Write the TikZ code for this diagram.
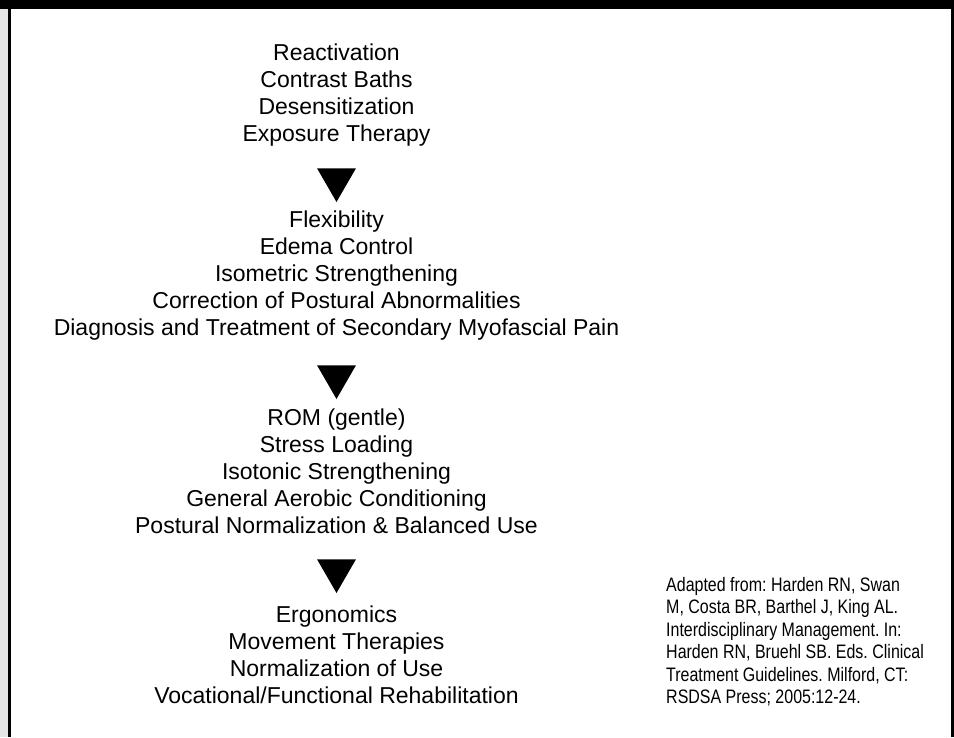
\documentclass[tikz,border=0pt]{standalone}
\usepackage{fontspec}
\setmainfont{Liberation Sans}
\newfontfamily\citefont[FakeStretch=0.82]{Liberation Sans}
\usetikzlibrary{shapes.geometric, positioning}
\frenchspacing

\tikzset{
  stage/.style={align=center, inner sep=0pt, anchor=base, font=\fontsize{23}{27}\selectfont},
  downtri/.style={regular polygon, regular polygon sides=3, shape border rotate=180,
    fill=black, inner sep=0pt, minimum size=45pt},
  source/.style={align=left, inner sep=0pt, anchor=base west,
    font=\citefont\fontsize{19.5}{22.5}\selectfont}
}

\begin{document}
\begin{tikzpicture}[x=1pt, y=-1pt]
  \useasboundingbox (0,0) rectangle (954,737);

  % Frame
  \fill[black!10] (0,0) rectangle (8,737);
  \fill[black] (8,0) rectangle (11,737);
  \fill[black] (951,0) rectangle (954,737);
  \fill[black] (0,0) rectangle (954,9);

  % Stages (anchored at the last line)
  \node[stage] (s1) at (336.5,141) {Reactivation\\Contrast Baths\\Desensitization\\Exposure Therapy};
  \node[stage] (s2) at (336.5,335) {Flexibility\\Edema Control\\Isometric Strengthening\\Correction of Postural Abnormalities\\Diagnosis and Treatment of Secondary Myofascial Pain};
  \node[stage] (s3) at (336.5,533) {ROM (gentle)\\Stress Loading\\Isotonic Strengthening\\General Aerobic Conditioning\\Postural Normalization \& Balanced Use};
  \node[stage] (s4) at (336.5,703) {Ergonomics\\Movement Therapies\\Normalization of Use\\Vocational/Functional Rehabilitation};

  % Arrows between stages
  \node[downtri] (t1) at (336.5,179.5) {};
  \node[downtri] (t2) at (336.5,376.5) {};
  \node[downtri] (t3) at (336.5,570.5) {};

  % Source
  \node[source] (src) at (666,703.5) {Adapted from: Harden RN, Swan\\M, Costa BR, Barthel J, King AL.\\Interdisciplinary Management. In:\\Harden RN, Bruehl SB. Eds. Clinical\\Treatment Guidelines. Milford, CT:\\RSDSA Press; 2005:12-24.};
\end{tikzpicture}
\end{document}
